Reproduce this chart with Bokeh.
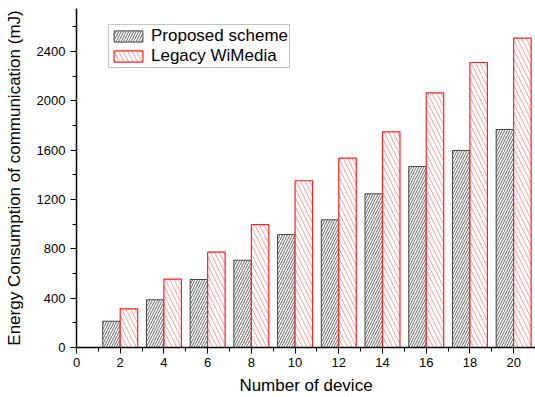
from bokeh.plotting import figure
from bokeh.models import ColumnDataSource, Range1d, Legend, LegendItem, SingleIntervalTicker
from bokeh.transform import dodge
from bokeh.embed import file_html
from bokeh.resources import INLINE

devices = [2, 4, 6, 8, 10, 12, 14, 16, 18, 20]
proposed = [213, 387, 551, 708, 916, 1035, 1246, 1468, 1598, 1768]
legacy = [314, 554, 773, 997, 1352, 1535, 1749, 2065, 2311, 2508]

src = ColumnDataSource(dict(x=devices, proposed=proposed, legacy=legacy))

FONT = "Liberation Sans"

p = figure(width=535, height=397, output_backend="svg", toolbar_location=None,
           x_range=Range1d(0, 21.0), y_range=Range1d(0, 2749),
           min_border_left=76, min_border_right=0, min_border_top=8, min_border_bottom=49)
p.outline_line_color = None
p.xgrid.visible = False
p.ygrid.visible = False
p.background_fill_color = "white"

r1 = p.vbar(x=dodge("x", -0.4, range=p.x_range), top="proposed", width=0.8, source=src,
            fill_color="white", line_color="#444444", line_width=1,
            hatch_pattern="/", hatch_color="#666666", hatch_scale=5, hatch_weight=1)
r2 = p.vbar(x=dodge("x", 0.4, range=p.x_range), top="legacy", width=0.8, source=src,
            fill_color="white", line_color="#ff2020", line_width=1.2,
            hatch_pattern="\\", hatch_color="#ff9a9a", hatch_scale=9, hatch_weight=1)

for ax in (p.xaxis[0], p.yaxis[0]):
    ax.axis_line_color = "black"
    ax.axis_line_width = 1.5
    ax.major_tick_line_color = "black"
    ax.minor_tick_line_color = "black"
    ax.major_tick_in = 0
    ax.major_tick_out = 6
    ax.minor_tick_in = 0
    ax.minor_tick_out = 4
    ax.major_label_text_font = FONT
    ax.major_label_text_font_size = "13px"
    ax.major_label_text_color = "black"
    ax.axis_label_text_font = FONT
    ax.axis_label_text_font_size = "17px"
    ax.axis_label_text_font_style = "normal"
    ax.axis_label_text_color = "black"

p.xaxis[0].ticker = SingleIntervalTicker(interval=2, num_minor_ticks=2)
p.yaxis[0].ticker = SingleIntervalTicker(interval=400, num_minor_ticks=2)
p.xaxis.axis_label = "Number of device"
p.yaxis.axis_label = "Energy Consumption of communication (mJ)"
p.xaxis.major_label_standoff = 4
p.xaxis.axis_label_standoff = 6
p.yaxis.axis_label_standoff = 10

legend = Legend(items=[LegendItem(label="Proposed scheme", renderers=[r1]),
                       LegendItem(label="Legacy WiMedia", renderers=[r2])],
                location=(32, 279))
legend.label_text_font = FONT
legend.label_text_font_size = "17px"
legend.label_text_color = "black"
legend.glyph_width = 36
legend.glyph_height = 14
legend.label_standoff = 5
legend.spacing = 0
legend.padding = 1
legend.margin = 0
legend.label_height = 14
legend.border_line_color = "#888888"
legend.border_line_width = 1
legend.background_fill_alpha = 1
p.add_layout(legend, "center")

open("out.html", "w").write(file_html(p, INLINE))
